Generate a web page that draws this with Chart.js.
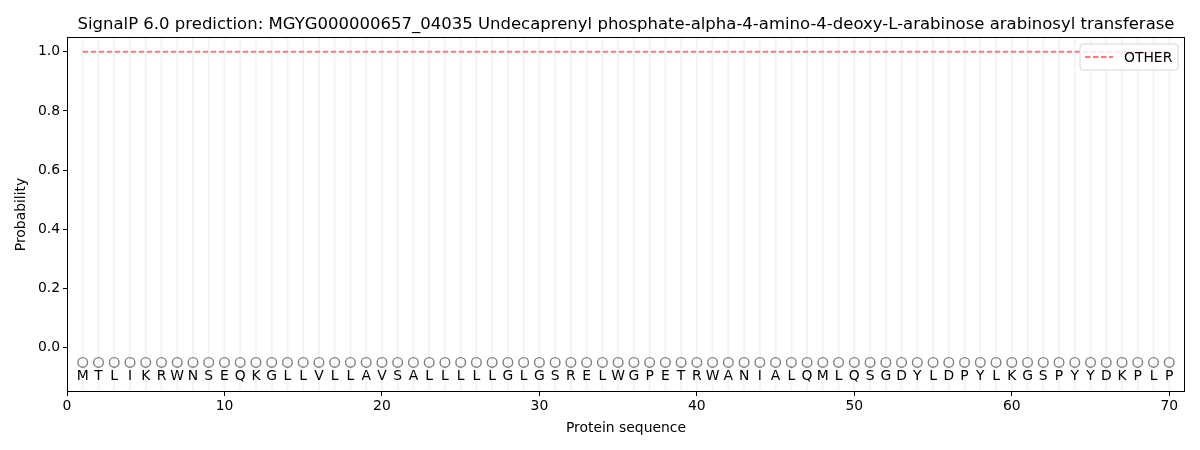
<!DOCTYPE html>
<html>
<head>
<meta charset="utf-8">
<script src="https://cdn.jsdelivr.net/npm/chart.js@4/dist/chart.umd.min.js"></script>
<style>
  html, body { margin: 0; padding: 0; background: #fff; }
  #wrap { width: 1200px; height: 450px; }
</style>
</head>
<body>
<div id="wrap"><canvas id="chart" width="1200" height="450"></canvas></div>
<script>
// Sequence residues, one per position
const residues = 'MTLIKRWNSEQKGLLVLLAVSALLLLLGLGSRELWGPETRWANIALQMLQSGDYLDPYLKGSPYYDKPLP'.split('');
const positions = residues.map((_, i) => i + 1);
// Predicted label per position (all OTHER) and probability of OTHER
const labels = residues.map(() => 'O');
const otherProb = residues.map(() => 1.0);
const yTicks = [0.0, 0.2, 0.4, 0.6, 0.8, 1.0];
const xTicks = [0, 10, 20, 30, 40, 50, 60, 70];

const FONT = 'DejaVu Sans';

// vertical per-residue grid, letters, frame, title and legend
const decorations = {
    id: 'decorations',
    beforeDatasetsDraw(chart) {
        const { ctx, chartArea: a, scales: { x } } = chart;
        ctx.save();
        ctx.strokeStyle = '#f4f4f4';
        ctx.lineWidth = 2;
        positions.forEach(p => {
            const px = x.getPixelForValue(p);
            ctx.beginPath();
            ctx.moveTo(px, a.top);
            ctx.lineTo(px, a.bottom);
            ctx.stroke();
        });
        ctx.restore();
    },
    afterDatasetsDraw(chart) {
        const { ctx, chartArea: a, scales: { x, y } } = chart;
        ctx.save();
        // residue letters
        ctx.fillStyle = '#000';
        ctx.font = '13.9px ' + FONT;
        ctx.textAlign = 'center';
        ctx.textBaseline = 'middle';
        residues.forEach((r, i) => {
            ctx.fillText(r, x.getPixelForValue(positions[i]), y.getPixelForValue(-0.098));
        });
        // frame
        ctx.strokeStyle = '#000';
        ctx.lineWidth = 1;
        ctx.strokeRect(a.left + 0.5, a.top + 0.5, a.right - a.left - 1, a.bottom - a.top - 1);
        // title
        ctx.font = '16.5px ' + FONT;
        ctx.textBaseline = 'alphabetic';
        ctx.fillText('SignalP 6.0 prediction: MGYG000000657_04035 Undecaprenyl phosphate-alpha-4-amino-4-deoxy-L-arabinose arabinosyl transferase',
            (a.left + a.right) / 2, 29);
        // legend
        const lx = a.right - 105, ly = a.top + 7, lw = 98, lh = 26;
        ctx.fillStyle = 'rgba(255,255,255,0.8)';
        ctx.strokeStyle = '#d6d6d6';
        ctx.beginPath();
        ctx.roundRect(lx, ly, lw, lh, 3);
        ctx.fill();
        ctx.stroke();
        ctx.strokeStyle = '#f08080';
        ctx.lineWidth = 2;
        ctx.setLineDash([5.5, 2.5]);
        ctx.beginPath();
        ctx.moveTo(lx + 5, ly + lh / 2);
        ctx.lineTo(lx + 33, ly + lh / 2);
        ctx.stroke();
        ctx.setLineDash([]);
        ctx.fillStyle = '#000';
        ctx.font = '13.9px ' + FONT;
        ctx.textAlign = 'left';
        ctx.textBaseline = 'middle';
        ctx.fillText('OTHER', lx + 44, ly + lh / 2 + 1);
        ctx.restore();
    }
};

new Chart(document.getElementById('chart'), {
    type: 'scatter',
    data: {
        datasets: [
            {
                label: 'OTHER',
                type: 'line',
                data: positions.map((p, i) => ({ x: p, y: otherProb[i] })),
                borderColor: '#f08080',
                borderWidth: 2,
                borderDash: [5.5, 2.5],
                pointRadius: 0,
                fill: false
            },
            {
                label: 'pred',
                data: positions.map((p, i) => ({ x: p, y: -0.05 })),
                pointStyle: 'circle',
                pointRadius: 4.8,
                borderColor: '#808080',
                borderWidth: 1.4,
                backgroundColor: 'rgba(0,0,0,0)'
            }
        ]
    },
    options: {
        responsive: false,
        devicePixelRatio: 1,
        animation: false,
        layout: { padding: { top: 37, right: 15, left: 0, bottom: 0 } },
        plugins: { legend: { display: false }, title: { display: false }, tooltip: { enabled: false } },
        scales: {
            x: {
                type: 'linear', min: 0, max: 71,
                afterBuildTicks: s => { s.ticks = xTicks.map(v => ({ value: v })); },
                afterFit: s => { s.height = 58; },
                grid: { drawOnChartArea: false, color: '#000', tickLength: 4, tickColor: '#000' },
                border: { display: false },
                ticks: { color: '#000', font: { family: FONT, size: 13.9 }, padding: 2, maxRotation: 0 },
                title: { display: true, text: 'Protein sequence', color: '#000', font: { family: FONT, size: 13.9 }, padding: { top: 13, bottom: 13 } }
            },
            y: {
                min: -0.15, max: 1.05,
                afterBuildTicks: s => { s.ticks = yTicks.map(v => ({ value: v })); },
                afterFit: s => { s.width = 67; },
                grid: { drawOnChartArea: false, tickLength: 4, tickColor: '#000' },
                border: { display: false },
                ticks: { color: '#000', font: { family: FONT, size: 13.9 }, padding: 3, callback: v => v.toFixed(1) },
                title: { display: true, text: 'Probability', color: '#000', font: { family: FONT, size: 13.9 }, padding: { top: 13, bottom: 13 } }
            }
        }
    },
    plugins: [decorations]
});
</script>
</body>
</html>
